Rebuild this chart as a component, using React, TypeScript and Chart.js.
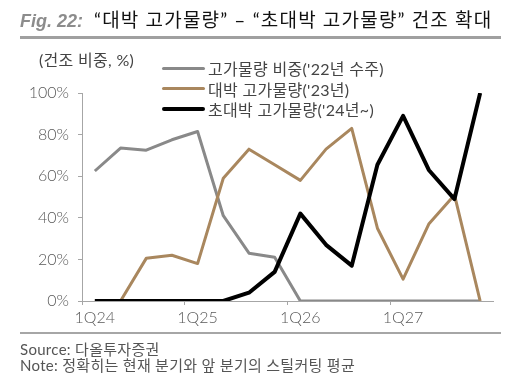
import React, { useEffect, useRef } from "react";
import { Chart, registerables } from "chart.js";

Chart.register(...registerables);

const categories = [
  "1Q24", "2Q24", "3Q24", "4Q24",
  "1Q25", "2Q25", "3Q25", "4Q25",
  "1Q26", "2Q26", "3Q26", "4Q26",
  "1Q27", "2Q27", "3Q27", "4Q27",
];
const seriesNames = [
  "고가물량 비중('22년 수주)",
  "대박 고가물량('23년)",
  "초대박 고가물량('24년~)",
];
const share22 = [62.5, 73.5, 72.5, 77.5, 81.5, 41, 23, 21, 0, 0, 0, 0, 0, 0, 0, 0];
const big23 = [0, 0, 20.5, 22, 18, 59, 73, 65.5, 58, 73, 83, 35, 10.5, 37, 51, 0];
const superBig24 = [0, 0, 0, 0, 0, 0, 4, 14, 42, 27, 17, 65.5, 89, 63, 49, 100];
const yTicks = [0, 20, 40, 60, 80, 100];

const colors = ["#898989", "#A9875E", "#000000"];
const widths = [3, 3, 4];

const AXIS = "#a6a6a6";
const TXT = "#595959";
const LAT = "Lato, 'Noto Sans CJK KR', sans-serif";

export default function App() {
  const ref = useRef<HTMLCanvasElement | null>(null);

  useEffect(() => {
    if (!ref.current) return;
    const values = [share22, big23, superBig24];
    const chart = new Chart(ref.current, {
      type: "line",
      data: {
        labels: categories,
        datasets: values.map((v, i) => ({
          label: seriesNames[i],
          data: v,
          borderColor: colors[i],
          backgroundColor: colors[i],
          borderWidth: widths[i],
          pointRadius: 0,
          tension: 0,
          borderJoinStyle: "round" as const,
          order: 3 - i,
        })),
      },
      options: {
        animation: false,
        responsive: false,
        maintainAspectRatio: false,
        layout: { padding: { left: 0, right: 39, top: 93, bottom: 44 } },
        plugins: { legend: { display: false }, tooltip: { enabled: false } },
        scales: {
          x: {
            type: "category",
            offset: true,
            afterFit: (s: any) => {
              s.height = 30;
            },
            grid: {
              offset: true,
              drawOnChartArea: false,
              drawTicks: true,
              tickLength: 4,
              tickColor: (ctx: any) => (ctx.index % 4 === 0 ? AXIS : "rgba(0,0,0,0)"),
              lineWidth: 1,
            },
            border: { color: AXIS, width: 1 },
            ticks: {
              autoSkip: false,
              maxRotation: 0,
              padding: 3,
              color: TXT,
              font: { family: LAT, size: 16, weight: 300 as any },
              callback: (_v: any, i: number) => (i % 4 === 0 ? categories[i] : ""),
            },
          },
          y: {
            min: 0,
            max: 100,
            afterFit: (s: any) => {
              s.width = 82;
            },
            afterBuildTicks: (s: any) => {
              s.ticks = yTicks.map((v) => ({ value: v }));
            },
            grid: {
              drawOnChartArea: false,
              drawTicks: true,
              tickLength: 4,
              tickColor: AXIS,
            },
            border: { color: AXIS, width: 1 },
            ticks: {
              padding: 9,
              color: TXT,
              font: { family: LAT, size: 16, weight: 300 as any },
              callback: (v: any) => `${v}%`,
            },
          },
        },
      },
    });
    return () => chart.destroy();
  }, []);

  return (
    <div
      style={{
        position: "absolute",
        left: 0,
        top: 0,
        width: 532,
        height: 375,
        background: "#fff",
        overflow: "hidden",
        fontFamily: LAT,
      }}
    >
      <canvas
        ref={ref}
        width={532}
        height={375}
        style={{ position: "absolute", left: 0, top: 0, width: 532, height: 375 }}
      />
      <div
        style={{
          position: "absolute",
          left: 20,
          top: 8,
          whiteSpace: "nowrap",
          lineHeight: "24px",
        }}
      >
        <span
          style={{
            fontFamily: "'Liberation Sans', Arial, sans-serif",
            fontStyle: "italic",
            fontWeight: "bold",
            fontSize: 18,
            color: "#8c8c8c",
          }}
        >
          Fig. 22:
        </span>
        <span
          style={{
            marginLeft: 11,
            fontSize: 19,
            color: "#111",
            letterSpacing: 1.2,
          }}
        >
          “대박 고가물량” – “초대박 고가물량” 건조 확대
        </span>
      </div>
      <div
        style={{
          position: "absolute",
          left: 20,
          top: 36,
          width: 481,
          height: 3,
          background: "#a0a0a0",
        }}
      />
      <div
        style={{
          position: "absolute",
          left: 39,
          top: 50,
          fontSize: 16,
          letterSpacing: 0.3,
          color: "#444",
          whiteSpace: "nowrap",
          lineHeight: "20px",
        }}
      >
        (건조 비중, %)
      </div>
      <div style={{ position: "absolute", left: 162, top: 58 }}>
        {seriesNames.map((n, i) => (
          <div
            key={n}
            style={{
              display: "flex",
              alignItems: "center",
              height: 20.5,
              whiteSpace: "nowrap",
            }}
          >
            <span
              style={{
                display: "inline-block",
                width: 43,
                height: widths[i],
                background: colors[i],
                borderRadius: 2,
              }}
            />
            <span style={{ marginLeft: 3, fontSize: 16, letterSpacing: 0.3, color: "#444" }}>
              {n}
            </span>
          </div>
        ))}
      </div>
      <div
        style={{
          position: "absolute",
          left: 20,
          top: 332,
          width: 481,
          height: 2,
          background: "#a6a6a6",
        }}
      />
      <div
        style={{
          position: "absolute",
          left: 20,
          top: 341,
          fontSize: 15,
          letterSpacing: 0.3,
          lineHeight: "16px",
          color: "#555",
          whiteSpace: "nowrap",
        }}
      >
        <div>Source: 다올투자증권</div>
        <div>Note: 정확히는 현재 분기와 앞 분기의 스틸커팅 평균</div>
      </div>
    </div>
  );
}
